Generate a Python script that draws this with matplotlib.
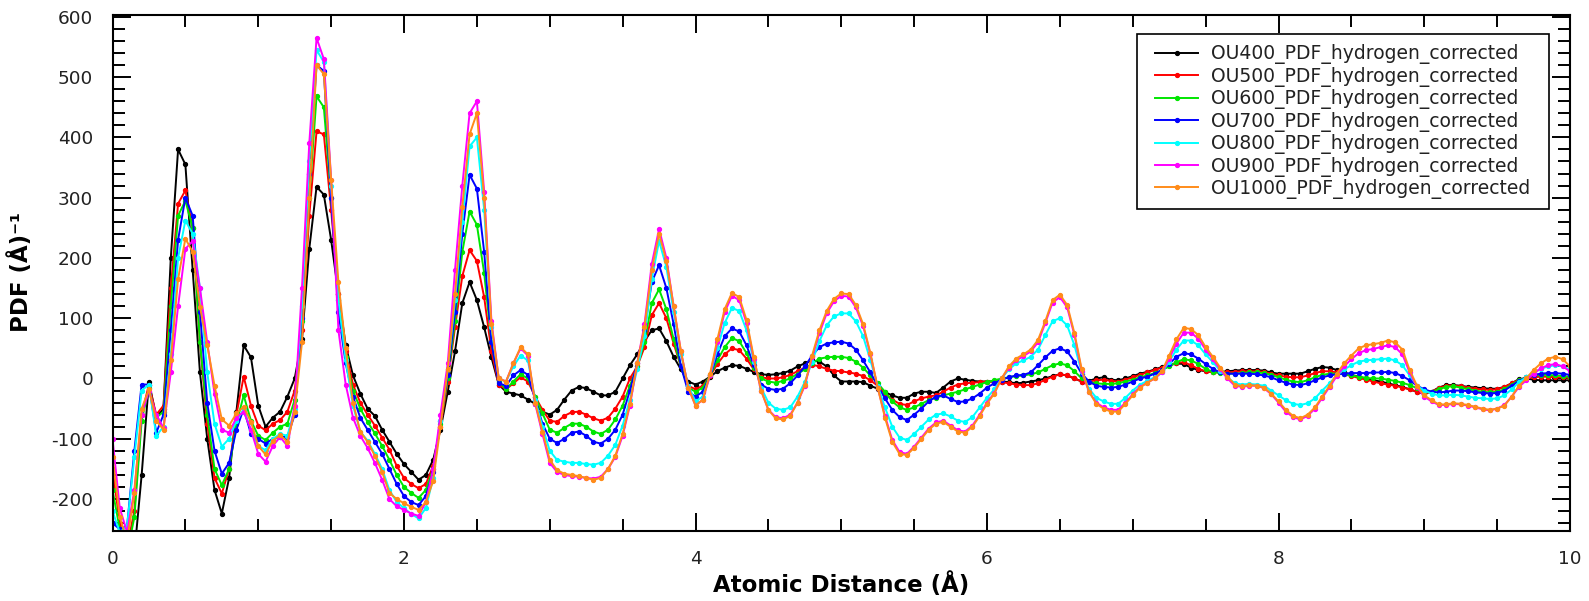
import numpy as np
import matplotlib
matplotlib.use("Agg")
import matplotlib.pyplot as plt
from matplotlib.patches import Rectangle
from matplotlib.transforms import IdentityTransform
from matplotlib.ticker import MultipleLocator

# -------------------------
# Data (grid step 0.05 A, 0 .. 10)
# -------------------------

r = np.linspace(0.0, 10.0, 201)

ou400 = [
    -320, -330, -320, -290, -160, -5, -65, -50, 200, 380,
    355, 180, 10, -100, -185, -224, -165, -55, 55, 35,
    -45, -80, -65, -55, -30, 0, 65, 215, 318, 305,
    230, 140, 55, 5, -25, -50, -62, -85, -105, -125,
    -142, -155, -168, -160, -135, -85, -22, 45, 125, 160,
    130, 85, 35, -10, -22, -25, -28, -35, -42, -55,
    -60, -52, -35, -20, -14, -16, -22, -28, -28, -22,
    0, 22, 40, 62, 80, 83, 62, 36, 15, -5,
    -10, -5, 3, 12, 18, 22, 21, 16, 11, 7,
    6, 7, 9, 13, 20, 25, 30, 28, 20, 5,
    -5, -5, -5, -6, -12, -17, -23, -28, -32, -32,
    -25, -22, -22, -24, -15, -5, 0, -2, -4, -5,
    -5, -5, -5, -6, -8, -7, -5, -3, 0, 4,
    7, 5, 0, -5, -4, 0, 2, -2, -3, 0,
    4, 8, 11, 15, 19, 22, 25, 24, 18, 14,
    12, 11, 11, 12, 13, 14, 14, 14, 13, 10,
    8, 8, 8, 8, 12, 16, 19, 18, 14, 10,
    6, 3, 0, -3, -5, -8, -11, -14, -18, -22,
    -25, -22, -15, -11, -11, -12, -14, -15, -16, -17,
    -17, -14, -8, -1, 0, -2, -3, -3, -3, -3,
    -3,
]

ou500 = [
    -150, -240, -280, -220, -60, -10, -60, -45, 150, 290,
    312, 250, 60, -75, -165, -191, -150, -60, 3, -45,
    -78, -86, -75, -69, -55, -20, 80, 270, 410, 405,
    280, 140, 45, -10, -40, -60, -78, -98, -118, -145,
    -165, -175, -182, -175, -145, -80, -5, 85, 170, 213,
    195, 135, 45, -10, -18, -8, 2, -5, -30, -52,
    -70, -72, -62, -56, -55, -60, -66, -70, -65, -50,
    -30, 0, 20, 52, 105, 125, 100, 58, 20, -12,
    -18, -12, 4, 24, 40, 50, 47, 33, 15, 2,
    0, 0, 2, 6, 12, 18, 23, 20, 16, 13,
    12, 10, 8, 4, -3, -12, -25, -35, -42, -44,
    -38, -33, -30, -28, -22, -15, -10, -8, -7, -6,
    -5, -5, -6, -8, -10, -11, -11, -8, -2, 3,
    7, 5, 0, -5, -5, -3, -2, -4, -5, -2,
    2, 6, 10, 14, 18, 22, 26, 27, 22, 16,
    12, 10, 10, 10, 11, 12, 12, 12, 11, 8,
    5, 3, 2, 2, 5, 9, 12, 12, 10, 7,
    4, 1, -2, -5, -8, -10, -12, -15, -18, -22,
    -25, -22, -16, -12, -12, -13, -15, -17, -18, -19,
    -18, -14, -8, -2, 1, 2, 3, 3, 2, 2,
    1,
]

ou600 = [
    -185, -250, -290, -230, -70, -15, -65, -55, 120, 270,
    295, 250, 60, -60, -150, -177, -150, -75, -28, -70,
    -95, -102, -90, -80, -75, -35, 95, 300, 468, 450,
    300, 130, 35, -20, -50, -72, -91, -112, -135, -160,
    -180, -190, -198, -185, -150, -75, 0, 95, 210, 277,
    255, 175, 60, -5, -18, -5, 7, 0, -30, -58,
    -85, -90, -82, -75, -75, -80, -88, -92, -85, -68,
    -45, -12, 20, 60, 125, 148, 115, 65, 20, -15,
    -22, -15, 5, 30, 52, 67, 62, 42, 18, 0,
    -5, -7, -4, 0, 8, 15, 25, 33, 35, 36,
    36, 34, 28, 18, 5, -8, -22, -38, -48, -52,
    -48, -42, -36, -32, -28, -25, -22, -18, -14, -10,
    -6, -3, 0, 2, 4, 5, 7, 10, 16, 22,
    25, 22, 12, 0, -6, -8, -9, -9, -8, -5,
    -2, 2, 5, 9, 14, 20, 27, 32, 30, 24,
    16, 11, 9, 8, 8, 9, 10, 10, 9, 6,
    2, -2, -5, -6, -3, 2, 6, 8, 8, 7,
    5, 3, 1, 0, 0, -2, -4, -7, -11, -16,
    -22, -22, -18, -14, -13, -15, -18, -20, -22, -23,
    -22, -18, -10, -3, 2, 5, 6, 6, 5, 4,
    3,
]

ou700 = [
    -240, -250, -245, -120, -10, -10, -90, -60, 80, 230,
    300, 270, 110, -40, -120, -158, -140, -85, -50, -92,
    -100, -108, -100, -97, -97, -60, 100, 340, 520, 510,
    300, 110, 25, -30, -65, -85, -105, -125, -150, -175,
    -195, -205, -210, -195, -155, -70, 5, 110, 240, 338,
    315, 210, 60, -8, -12, 5, 14, 6, -35, -75,
    -100, -107, -100, -90, -88, -95, -105, -108, -100, -85,
    -60, -20, 25, 80, 160, 188, 150, 90, 20, -22,
    -30, -22, 5, 40, 70, 83, 78, 55, 22, -10,
    -17, -19, -17, -8, 5, 20, 38, 52, 58, 60,
    61, 58, 48, 30, 10, -12, -33, -52, -64, -69,
    -60, -50, -38, -30, -28, -34, -39, -38, -33, -25,
    -15, -8, -2, 2, 5, 6, 10, 22, 35, 46,
    50, 45, 28, 8, -5, -12, -14, -15, -14, -10,
    -5, 0, 3, 8, 14, 24, 36, 42, 40, 33,
    24, 16, 10, 8, 8, 8, 8, 7, 5, 2,
    -3, -7, -10, -11, -8, -3, 2, 5, 7, 8,
    9, 9, 9, 10, 10, 11, 9, 4, -3, -12,
    -18, -22, -23, -22, -20, -20, -21, -23, -24, -25,
    -24, -20, -12, -4, 2, 6, 8, 9, 9, 8,
    6,
]

ou800 = [
    -220, -255, -245, -130, -20, -10, -95, -80, 40, 200,
    262, 240, 150, 10, -75, -113, -100, -70, -52, -85,
    -112, -119, -100, -92, -95, -50, 120, 360, 545, 525,
    320, 130, 30, -45, -88, -103, -125, -150, -185, -205,
    -215, -225, -232, -215, -165, -70, 15, 130, 260, 385,
    400, 280, 85, 0, -5, 20, 38, 30, -35, -80,
    -120, -135, -138, -140, -140, -142, -143, -140, -128, -110,
    -78, -35, 15, 70, 165, 228, 185, 110, 40, -12,
    -38, -30, 5, 50, 92, 117, 112, 80, 28, -15,
    -40, -50, -52, -48, -30, -6, 28, 62, 88, 103,
    108, 108, 95, 70, 30, -12, -48, -80, -98, -102,
    -92, -80, -68, -60, -58, -63, -70, -72, -64, -48,
    -32, -18, 0, 15, 25, 30, 36, 48, 72, 95,
    100, 88, 55, 10, -17, -32, -38, -42, -42, -32,
    -20, -10, -4, 2, 10, 28, 48, 63, 63, 55,
    40, 27, 13, 2, -8, -10, -9, -10, -12, -20,
    -28, -36, -42, -44, -41, -33, -20, -8, 5, 15,
    22, 28, 30, 31, 32, 33, 30, 22, 5, -12,
    -20, -25, -28, -28, -27, -28, -30, -32, -33, -34,
    -33, -28, -18, -6, 2, 10, 16, 20, 22, 20,
    15,
]

ou900 = [
    -100, -215, -255, -185, -60, -20, -60, -82, 10, 120,
    215, 228, 150, 60, -25, -85, -90, -65, -55, -85,
    -125, -138, -112, -97, -112, -45, 150, 390, 565, 530,
    330, 80, -10, -65, -95, -115, -140, -168, -200, -212,
    -218, -224, -228, -205, -150, -60, 25, 180, 320, 440,
    460, 310, 95, 0, -5, 25, 50, 38, -42, -92,
    -140, -155, -160, -162, -163, -165, -166, -163, -150, -130,
    -95, -45, 25, 90, 190, 248, 200, 120, 45, -15,
    -45, -35, 5, 60, 110, 137, 130, 92, 32, -20,
    -52, -64, -66, -60, -40, -12, 35, 75, 108, 128,
    137, 136, 118, 87, 40, -15, -62, -102, -122, -125,
    -113, -98, -83, -73, -70, -78, -86, -88, -78, -60,
    -40, -24, 0, 18, 30, 37, 45, 60, 92, 126,
    135, 118, 72, 12, -22, -40, -48, -52, -52, -40,
    -26, -14, -7, 0, 10, 33, 58, 76, 76, 66,
    48, 32, 15, 0, -12, -14, -12, -12, -16, -26,
    -40, -55, -64, -68, -62, -50, -32, -14, 4, 20,
    32, 42, 47, 49, 52, 55, 52, 40, 10, -14,
    -30, -38, -44, -44, -42, -43, -45, -48, -51, -53,
    -50, -44, -30, -14, -3, 8, 17, 22, 24, 20,
    12,
]

ou1000 = [
    -130, -230, -270, -190, -50, -18, -70, -85, 30, 165,
    232, 210, 119, 55, -12, -68, -78, -58, -47, -72,
    -112, -126, -103, -94, -105, -55, 60, 300, 520, 505,
    330, 160, 50, -40, -88, -105, -128, -155, -190, -200,
    -207, -213, -218, -205, -170, -80, 15, 140, 285, 405,
    440, 300, 90, 0, -5, 25, 52, 40, -40, -88,
    -135, -152, -158, -160, -162, -165, -168, -165, -150, -128,
    -92, -42, 25, 85, 180, 240, 195, 120, 45, -15,
    -45, -35, 8, 65, 115, 142, 135, 97, 35, -20,
    -52, -66, -68, -62, -40, -10, 38, 80, 112, 132,
    141, 140, 122, 90, 42, -15, -65, -105, -125, -127,
    -115, -100, -85, -75, -72, -80, -88, -90, -80, -62,
    -42, -25, 0, 20, 33, 40, 48, 64, 95, 130,
    139, 122, 75, 15, -22, -42, -50, -55, -55, -42,
    -28, -15, -7, 0, 12, 38, 65, 84, 82, 72,
    52, 36, 18, 3, -10, -13, -11, -12, -15, -25,
    -38, -52, -62, -66, -60, -48, -30, -12, 8, 25,
    38, 50, 55, 57, 59, 63, 60, 48, 14, -12,
    -28, -36, -43, -43, -41, -42, -44, -47, -50, -52,
    -50, -45, -30, -12, 0, 14, 25, 33, 36, 32,
    20,
]

labels = [
    "OU400_PDF_hydrogen_corrected",
    "OU500_PDF_hydrogen_corrected",
    "OU600_PDF_hydrogen_corrected",
    "OU700_PDF_hydrogen_corrected",
    "OU800_PDF_hydrogen_corrected",
    "OU900_PDF_hydrogen_corrected",
    "OU1000_PDF_hydrogen_corrected",
]
series = [ou400, ou500, ou600, ou700, ou800, ou900, ou1000]
colors = ["#000000", "#ff0000", "#00e600", "#0000ff", "#00ffff", "#ff00ff", "#ff8c1a"]


def main() -> None:
    plt.rcParams["axes.unicode_minus"] = False

    fig = plt.figure(figsize=(15.89, 6.01), dpi=100)
    ax = fig.add_axes([112.5 / 1589, 70 / 601, 1457.5 / 1589, 516 / 601])

    for label, ys, c in zip(labels, series, colors):
        ax.plot(r, ys, color=c, lw=1.4, marker="o", ms=2.8,
                mec=c, mfc=c, label=label)

    ax.set_xlim(0, 10)
    ax.set_ylim(-253, 603)

    ax.xaxis.set_major_locator(MultipleLocator(2))
    ax.xaxis.set_minor_locator(MultipleLocator(0.5))
    ax.yaxis.set_major_locator(MultipleLocator(100))
    ax.yaxis.set_minor_locator(MultipleLocator(20))

    ax.tick_params(which="both", direction="in", top=True, right=True,
                   width=1.4, labelsize=13.3, colors="black")
    ax.tick_params(which="major", length=13)
    ax.tick_params(which="minor", length=8.5)
    ax.tick_params(axis="x", pad=13.5)
    ax.tick_params(axis="y", pad=14)
    for lab in ax.get_xticklabels() + ax.get_yticklabels():
        lab.set_color("#222222")

    for s in ax.spines.values():
        s.set_linewidth(1.5)

    fig.text(841 / 1589, 1 - 585 / 601, "Atomic Distance (Å)",
             ha="center", va="center", fontsize=16.5, fontweight="bold")
    fig.text(21 / 1589, 1 - 272 / 601, "PDF (Å)⁻¹", rotation=90,
             ha="center", va="center", fontsize=16.5, fontweight="bold")

    # legend without its own frame; the box is drawn a bit wider, like the original
    leg = ax.legend(loc="upper right", bbox_to_anchor=(0.9800, 0.963),
                    borderaxespad=0, fontsize=13.5, labelspacing=0.13,
                    handlelength=2.3, handletextpad=0.7, borderpad=0.55,
                    frameon=False)
    for t in leg.get_texts():
        t.set_color("#222222")

    fig.canvas.draw()
    bb = leg.get_window_extent()
    dx = 8
    box = Rectangle((bb.x0 - dx, bb.y0), bb.width + 2 * dx, bb.height,
                    transform=IdentityTransform(), facecolor="white",
                    edgecolor="black", linewidth=1.2, zorder=4.5,
                    clip_on=False)
    ax.add_patch(box)

    fig.savefig("out.png", dpi=100)


if __name__ == "__main__":
    main()
